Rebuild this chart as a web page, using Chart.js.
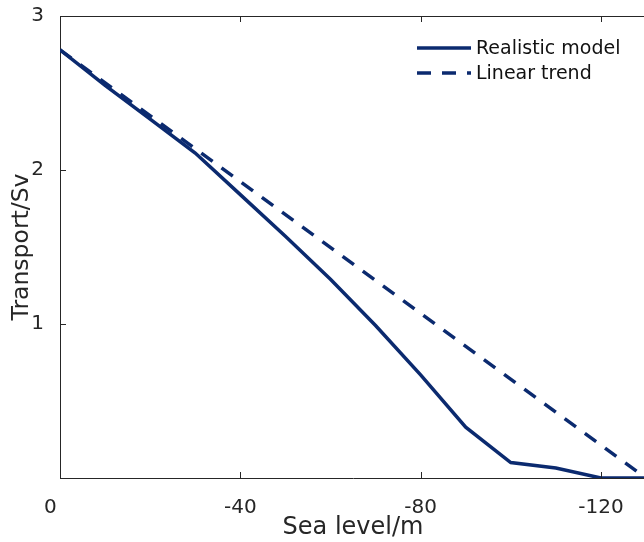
<!DOCTYPE html>
<html>
<head>
<meta charset="utf-8">
<script src="https://cdn.jsdelivr.net/npm/chart.js@4/dist/chart.umd.min.js"></script>
<style>
  html, body { margin: 0; padding: 0; background: #fff; overflow: hidden; }
  #wrap { width: 652px; height: 542px; }
</style>
</head>
<body>
<div id="wrap"><canvas id="chart" width="652" height="542"></canvas></div>
<script>
// Sea level (m) and transport (Sv)
const seaLevel = [0, -10, -20, -30, -40, -50, -60, -70, -80, -90, -100, -110, -120, -130];
const realisticModel = [2.78, 2.55, 2.33, 2.11, 1.84, 1.57, 1.29, 0.99, 0.67, 0.33, 0.10, 0.065, 0, 0];
const trendLevel = [0, -130];
const linearTrend = [2.78, 0];

const xTicks = [0, -40, -80, -120];
const yTicks = [1, 2, 3];

const navy = "#0b2a6f";
const axisColor = "#262626";
const fontFamily = "'DejaVu Sans', sans-serif";

// Box on top, inward tick marks and the legend in the upper right
const boxPlugin = {
  id: "box",
  afterDraw(chart) {
    const { ctx, chartArea: a, scales } = chart;
    ctx.save();
    ctx.strokeStyle = axisColor;
    ctx.lineWidth = 1;
    ctx.beginPath();
    ctx.moveTo(a.left, a.top + 0.5);
    ctx.lineTo(a.right, a.top + 0.5);
    scales.x.ticks.forEach((t) => {
      const px = Math.round(scales.x.getPixelForValue(t.value)) + 0.5;
      ctx.moveTo(px, a.bottom);
      ctx.lineTo(px, a.bottom - 6);
      ctx.moveTo(px, a.top);
      ctx.lineTo(px, a.top + 6);
    });
    scales.y.ticks.forEach((t) => {
      const py = Math.round(scales.y.getPixelForValue(t.value)) + 0.5;
      ctx.moveTo(a.left, py);
      ctx.lineTo(a.left + 6, py);
    });
    ctx.stroke();

    // legend
    const rows = [48, 73];
    chart.data.datasets.forEach((ds, i) => {
      const y = rows[i];
      ctx.strokeStyle = ds.borderColor;
      ctx.lineWidth = ds.borderWidth;
      ctx.setLineDash(ds.borderDash || []);
      ctx.beginPath();
      ctx.moveTo(417, y);
      ctx.lineTo(471, y);
      ctx.stroke();
      ctx.setLineDash([]);
      ctx.fillStyle = "#111";
      ctx.font = "19px " + fontFamily;
      ctx.textBaseline = "middle";
      ctx.textAlign = "left";
      ctx.fillText(ds.label, 476, y + 1);
    });
    ctx.restore();
  },
};

new Chart(document.getElementById("chart"), {
  type: "line",
  data: {
    datasets: [
      {
        label: "Realistic model",
        data: seaLevel.map((x, i) => ({ x, y: realisticModel[i] })),
        borderColor: navy,
        borderWidth: 3.5,
        pointRadius: 0,
        tension: 0,
      },
      {
        label: "Linear trend",
        data: trendLevel.map((x, i) => ({ x, y: linearTrend[i] })),
        borderColor: navy,
        borderWidth: 3.5,
        borderDash: [14, 11],
        pointRadius: 0,
        tension: 0,
      },
    ],
  },
  options: {
    responsive: false,
    animation: false,
    layout: { padding: { top: 16, right: 6, left: 0, bottom: 0 } },
    plugins: { legend: { display: false }, tooltip: { enabled: false } },
    scales: {
      x: {
        type: "linear",
        reverse: true,
        min: -130,
        max: 0,
        afterBuildTicks: (s) => { s.ticks = xTicks.map((v) => ({ value: v })); },
        afterFit: (s) => { s.height = 64; },
        grid: { display: false },
        border: { display: true, color: axisColor, width: 1 },
        ticks: {
          color: axisColor,
          font: { family: fontFamily, size: 20 },
          padding: 10,
          maxRotation: 0,
          callback: (v) => (v === 0 ? "0   " : String(v)),
        },
        title: {
          display: true,
          text: "Sea level/m",
          color: axisColor,
          font: { family: fontFamily, size: 24 },
          padding: { top: 0, bottom: 0 },
        },
      },
      y: {
        type: "linear",
        min: 0,
        max: 3,
        afterBuildTicks: (s) => { s.ticks = yTicks.map((v) => ({ value: v })); },
        afterFit: (s) => {
          s.width = 60;
          s.paddingTop = 0;
          s.paddingBottom = 0;
        },
        grid: { display: false },
        border: { display: true, color: axisColor, width: 1 },
        ticks: {
          color: axisColor,
          font: { family: fontFamily, size: 20 },
          padding: 8,
        },
        title: {
          display: true,
          text: "Transport/Sv",
          color: axisColor,
          font: { family: fontFamily, size: 23.5 },
          padding: { top: 8, bottom: 0 },
        },
      },
    },
  },
  plugins: [boxPlugin],
});
</script>
</body>
</html>
